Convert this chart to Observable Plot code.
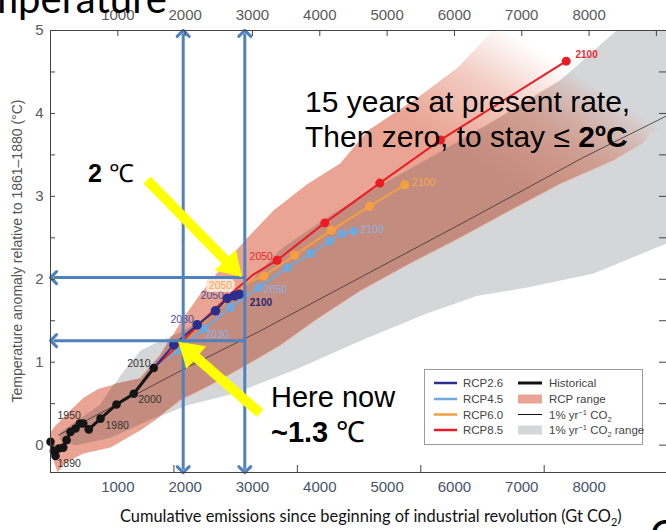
<!DOCTYPE html>
<html>
<head>
<meta charset="utf-8">
<script src="https://cdn.jsdelivr.net/npm/d3@7"></script>
<script src="https://cdn.jsdelivr.net/npm/@observablehq/plot@0.6"></script>
<style>
  html, body { margin: 0; padding: 0; background: white; }
  #wrap { position: relative; width: 666px; height: 530px; overflow: hidden; }
  #overlay { position: absolute; left: 0; top: 0; pointer-events: none; }
</style>
</head>
<body>
<div id="wrap"></div>
<script>
// ---------- data (x: cumulative emissions GtCO2, y: temperature anomaly °C) ----------
const historical = [
  {v: 0, T: 0.04}, {v: 49, T: -0.07}, {v: 74, T: -0.13}, {v: 123, T: -0.04}, {v: 189, T: -0.03},
  {v: 238, T: 0.06}, {v: 297, T: 0.16}, {v: 371, T: 0.20}, {v: 435, T: 0.26}, {v: 486, T: 0.26},
  {v: 569, T: 0.19}, {v: 743, T: 0.32}, {v: 980, T: 0.49}, {v: 1237, T: 0.62}, {v: 1534, T: 0.93}
];
const rcp26 = [
  {v: 1534, T: 0.93}, {v: 1831, T: 1.21}, {v: 2179, T: 1.45}, {v: 2451, T: 1.62},
  {v: 2625, T: 1.77}, {v: 2733, T: 1.80}, {v: 2807, T: 1.82}
];
const rcp45 = [
  {v: 1534, T: 0.93}, {v: 1882, T: 1.14}, {v: 2277, T: 1.40}, {v: 2674, T: 1.66}, {v: 3094, T: 1.90},
  {v: 3516, T: 2.14}, {v: 3862, T: 2.31}, {v: 4149, T: 2.46}, {v: 4333, T: 2.55}, {v: 4505, T: 2.58}
];
const rcp60 = [
  {v: 1534, T: 0.93}, {v: 1860, T: 1.17}, {v: 2250, T: 1.47}, {v: 2620, T: 1.74}, {v: 2950, T: 1.97},
  {v: 3168, T: 2.04}, {v: 3624, T: 2.29}, {v: 4170, T: 2.59}, {v: 4738, T: 2.88}, {v: 5263, T: 3.14}
];
const rcp60Dots = [3168, 3624, 4170, 4738, 5263];
const rcp85 = [
  {v: 1534, T: 0.93}, {v: 1880, T: 1.19}, {v: 2300, T: 1.53}, {v: 2700, T: 1.84}, {v: 3000, T: 2.05},
  {v: 3367, T: 2.23}, {v: 4074, T: 2.68}, {v: 4891, T: 3.16}, {v: 5793, T: 3.68}, {v: 7660, T: 4.63}
];
const rcp85Dots = [3367, 4074, 4891, 5793, 7660];
const onePct = [
  {v: 119, T: 0.12}, {v: 2035, T: 0.94}, {v: 3075, T: 1.36}, {v: 4204, T: 1.85},
  {v: 6194, T: 2.71}, {v: 7917, T: 3.47}, {v: 9150, T: 3.97}
];
// RCP range polygon (upper edge left→right, then lower edge right→left)
const rcpRange = [
  {v: 0, T: 0.15}, {v: 45, T: 0.21}, {v: 297, T: 0.42}, {v: 490, T: 0.57}, {v: 713, T: 0.68},
  {v: 995, T: 0.74}, {v: 1337, T: 0.80}, {v: 1634, T: 1.08}, {v: 1931, T: 1.48}, {v: 2228, T: 1.83},
  {v: 2629, T: 2.23}, {v: 2926, T: 2.50}, {v: 3312, T: 2.83}, {v: 3817, T: 3.15}, {v: 4307, T: 3.40},
  {v: 4709, T: 3.79}, {v: 5451, T: 4.19}, {v: 6046, T: 4.55}, {v: 6432, T: 4.88}, {v: 6759, T: 5.17},
  {v: 7724, T: 5.36}, {v: 9507, T: 4.40}, {v: 9358, T: 3.85}, {v: 8912, T: 3.76}, {v: 8808, T: 3.64},
  {v: 8363, T: 3.43}, {v: 7576, T: 3.15}, {v: 6833, T: 2.83}, {v: 6090, T: 2.50}, {v: 5347, T: 2.19},
  {v: 4605, T: 1.86}, {v: 3966, T: 1.52}, {v: 3416, T: 1.20}, {v: 2822, T: 0.92}, {v: 2332, T: 0.70},
  {v: 1931, T: 0.54}, {v: 1589, T: 0.32}, {v: 1337, T: 0.18}, {v: 891, T: -0.03}, {v: 490, T: -0.10},
  {v: 223, T: -0.21}, {v: 104, T: -0.33}, {v: 0, T: -0.07}
];
// 1% yr-1 CO2 range polygon
const pctRange = [
  {v: 149, T: 0.15}, {v: 743, T: 0.48}, {v: 1040, T: 0.84}, {v: 1337, T: 1.14}, {v: 1634, T: 1.26},
  {v: 1931, T: 1.35}, {v: 2377, T: 1.56}, {v: 2822, T: 1.83}, {v: 3416, T: 2.35}, {v: 4115, T: 2.74},
  {v: 4605, T: 2.99}, {v: 5838, T: 3.55}, {v: 6684, T: 3.95}, {v: 7576, T: 4.40}, {v: 8407, T: 5.00},
  {v: 8764, T: 5.24}, {v: 9655, T: 5.24}, {v: 9655, T: 2.53}, {v: 9150, T: 2.43}, {v: 8066, T: 2.07},
  {v: 7085, T: 1.90}, {v: 6343, T: 1.80}, {v: 5600, T: 1.59}, {v: 4605, T: 1.26}, {v: 3669, T: 0.92},
  {v: 2718, T: 0.62}, {v: 2035, T: 0.48}, {v: 1485, T: 0.30}, {v: 891, T: 0.08}, {v: 371, T: -0.01},
  {v: 149, T: 0.06}
];
// gradient fade of the RCP range (start full, end transparent)
const rcpFade = {from: {v: 5496, T: 3.83}, to: {v: 6536, T: 5.14}};

const histYearLabels = [
  {text: "1890", v: 104, T: -0.22}, {text: "1950", v: 104, T: 0.35}, {text: "1980", v: 817, T: 0.24},
  {text: "2000", v: 1303, T: 0.55}, {text: "2010", v: 1139, T: 0.98}
];
const rcpYearLabels = [
  {text: "2030", v: 1956, T: 1.51, color: "#4a4a9c"},
  {text: "2050", v: 2402, T: 1.80, color: "#4a4a9c"},
  {text: "2030", v: 2476, T: 1.33, color: "#8db3e2"},
  {text: "2050", v: 3342, T: 1.88, color: "#8db3e2"},
  {text: "2100", v: 4779, T: 2.60, color: "#8db3e2"},
  {text: "2100", v: 5541, T: 3.17, color: "#f7a84e"},
  {text: "2050", v: 3130, T: 2.27, color: "#e8262c"}
];
const orangeBoxLabel = [{text: "2050", v: 2525, T: 1.92}];
const boldYearLabels = [
  {text: "2100", v: 2960, T: 1.72, color: "#26286e"},
  {text: "2100", v: 7798, T: 4.71, color: "#ee2b31"}
];

// slide annotations
const blueVertical = [1971, 2886];
const blueHorizontal = [2.02, 1.26];
const yellowArrows = [
  {x1: 1441, y1: 3.19, x2: 2852, y2: 2.02},
  {x1: 3119, y1: 0.38, x2: 1906, y2: 1.24}
];

// ticks
const xTickLabels = [1000, 2000, 3000, 4000, 5000, 6000, 7000, 8000];
const xTopTicks = [1000, 2000, 3000, 4000, 5000, 6000, 7000, 8000, 9000];
const xBottomTicksGtC = [500, 1000, 1500, 2000]; // original GtC ticks
const gtcToGtco2 = 44 / 12;
const yTickLabels = [0, 1, 2, 3, 4, 5];
const yTicks = [0, 0.5, 1, 1.5, 2, 2.5, 3, 3.5, 4, 4.5, 5];
const xDomain = [0, 9150];
const yDomain = [-0.33, 5];

// ---------- colors ----------
const C = {
  navy: "#2b2e8c", light: "#6fa8dc", orange: "#f5a03e", red: "#ec1c24",
  salmon: "#e9a493", brown: "#c38c7e", gray: "#d5d6d8", blue: "#4f81bd", yellow: "#ffff00", hist: "#151515"
};

const W = 666, H = 530, mT = 30, mB = 58, mL = 50, mR = 0;
const innerW = W - mL - mR, innerH = H - mT - mB;

function addFade(defs, id, color, x, y) {
  const g = defs.append("linearGradient")
    .attr("id", id).attr("gradientUnits", "userSpaceOnUse")
    .attr("x1", x(rcpFade.from.v)).attr("y1", y(rcpFade.from.T))
    .attr("x2", x(rcpFade.to.v)).attr("y2", y(rcpFade.to.T));
  g.append("stop").attr("offset", 0).attr("stop-color", color).attr("stop-opacity", 1);
  g.append("stop").attr("offset", 0.55).attr("stop-color", color).attr("stop-opacity", 0.55);
  g.append("stop").attr("offset", 1).attr("stop-color", color).attr("stop-opacity", 0);
}

function gradientDefs(index, scales) {
  const {x, y} = scales;
  const svg = d3.create("svg:g");
  const defs = svg.append("defs");
  addFade(defs, "rcpFadeGrad", C.salmon, x, y);
  return svg.node();
}

// the part of the 1% range that lies under the RCP range (drawn darker)
function overlapMark(index, scales) {
  const {x, y} = scales;
  const line = d3.line().x(d => x(d.v)).y(d => y(d.T));
  const g = d3.create("svg:g");
  const defs = g.append("defs");
  addFade(defs, "overlapGrad", C.brown, x, y);
  defs.append("clipPath").attr("id", "rcpClip").append("path").attr("d", line(rcpRange) + "Z");
  defs.append("clipPath").attr("id", "frameClip").append("rect")
    .attr("x", mL).attr("y", mT).attr("width", innerW).attr("height", innerH);
  g.append("g").attr("clip-path", "url(#frameClip)")
    .append("path").attr("d", line(pctRange) + "Z")
    .attr("fill", "url(#overlapGrad)").attr("clip-path", "url(#rcpClip)");
  return g.node();
}

function fatArrows(index, scales) {
  const {x, y} = scales;
  const g = d3.create("svg:g");
  const w = 10, hl = 24, hw = 15;
  for (const a of yellowArrows) {
    const tx = x(a.x1), ty = y(a.y1), px = x(a.x2), py = y(a.y2);
    const len = Math.hypot(px - tx, py - ty);
    const dx = (px - tx) / len, dy = (py - ty) / len;
    const nx = -dy, ny = dx;
    const bx = px - dx * hl, by = py - dy * hl;
    const pts = [
      [tx + nx * w / 2, ty + ny * w / 2], [bx + nx * w / 2, by + ny * w / 2], [bx + nx * hw, by + ny * hw],
      [px, py], [bx - nx * hw, by - ny * hw], [bx - nx * w / 2, by - ny * w / 2], [tx - nx * w / 2, ty - ny * w / 2]
    ];
    g.append("polygon").attr("points", pts.map(p => p.join(",")).join(" ")).attr("fill", C.yellow);
  }
  return g.node();
}

const midT = 2.4;
const vertLinks = blueVertical.flatMap(v => [
  {x1: v, y1: midT, x2: v, y2: 4.965}, {x1: v, y1: midT, x2: v, y2: -0.295}
]);
const horizLinks = blueHorizontal.map(T => ({x1: 2886, y1: T, x2: 45, y2: T}));

const plot = Plot.plot({
  width: W, height: H,
  marginTop: mT, marginBottom: mB, marginLeft: mL, marginRight: mR,
  x: {domain: xDomain, axis: null},
  y: {domain: yDomain, axis: null},
  style: {fontFamily: "'Liberation Sans', Arial, sans-serif", background: "white", overflow: "hidden"},
  marks: [
    gradientDefs,
    Plot.line(pctRange, {x: "v", y: "T", fill: C.gray, stroke: "none", clip: true}),
    Plot.line(rcpRange, {x: "v", y: "T", fill: "url(#rcpFadeGrad)", stroke: "none", clip: true}),
    overlapMark,
    Plot.line(onePct, {x: "v", y: "T", stroke: "#333", strokeWidth: 0.8, clip: true}),
    // RCP scenarios
    Plot.line(rcp45, {x: "v", y: "T", stroke: C.light, strokeWidth: 2}),
    Plot.dot(rcp45.slice(1), {x: "v", y: "T", r: 4.5, fill: C.light}),
    Plot.line(rcp60, {x: "v", y: "T", stroke: C.orange, strokeWidth: 2}),
    Plot.dot(rcp60.filter(d => rcp60Dots.includes(d.v)), {x: "v", y: "T", r: 4.5, fill: C.orange}),
    Plot.line(rcp85, {x: "v", y: "T", stroke: C.red, strokeWidth: 2}),
    Plot.dot(rcp85.filter(d => rcp85Dots.includes(d.v)), {x: "v", y: "T", r: 4.5, fill: C.red}),
    Plot.line(rcp26, {x: "v", y: "T", stroke: C.navy, strokeWidth: 2}),
    Plot.dot(rcp26.slice(1), {x: "v", y: "T", r: 4.8, fill: C.navy}),
    // historical
    Plot.line(historical, {x: "v", y: "T", stroke: C.hist, strokeWidth: 3}),
    Plot.dot(historical, {x: "v", y: "T", r: 4.3, fill: C.hist}),
    // year labels
    Plot.text(histYearLabels, {x: "v", y: "T", text: "text", textAnchor: "start", fill: "#333", fontSize: 10.5}),
    Plot.text(rcpYearLabels, {x: "v", y: "T", text: "text", fill: "color", fontSize: 10.5}),
    Plot.text(orangeBoxLabel, {x: "v", y: "T", text: "text", fill: "#f7a84e", stroke: "#fbe4d8", strokeWidth: 6, fontSize: 10.5}),
    Plot.text(boldYearLabels, {x: "v", y: "T", text: "text", fill: "color", textAnchor: "start", fontWeight: "bold", fontSize: 10}),
    // blue annotation arrows
    Plot.link(vertLinks, {x1: "x1", y1: "y1", x2: "x2", y2: "y2", stroke: C.blue, strokeWidth: 3, markerEnd: "arrow"}),
    Plot.link(horizLinks, {x1: "x1", y1: "y1", x2: "x2", y2: "y2", stroke: C.blue, strokeWidth: 3, markerEnd: "arrow"}),
    // yellow arrows
    fatArrows,
    // frame lines
    Plot.ruleY([yDomain[1]], {stroke: "#444", strokeWidth: 1}),
    Plot.ruleY([yDomain[0]], {stroke: "#444", strokeWidth: 1}),
    Plot.ruleX([xDomain[0]], {stroke: "#444", strokeWidth: 1}),
    // inward ticks
    Plot.tickX(xTopTicks, {x: d => d, insetBottom: innerH - 6, stroke: "#444"}),
    Plot.tickX(xBottomTicksGtC, {x: d => d * gtcToGtco2, insetTop: innerH - 7, stroke: "#444"}),
    Plot.tickY(yTicks, {y: d => d, insetRight: innerW - 5, stroke: "#444"}),
    Plot.tickY(yTicks, {y: d => d, insetLeft: innerW - 7, stroke: "#444"}),
    // axis labels
    Plot.axisX(xTickLabels, {anchor: "top", tickSize: 0, tickPadding: 11, fontSize: 15, color: "#5a5a5a", label: null, tickFormat: "d"}),
    Plot.axisX(xTickLabels, {anchor: "bottom", tickSize: 0, tickPadding: 9, fontSize: 15, color: "#46536a", label: null, tickFormat: "d"}),
    Plot.axisY(yTickLabels, {anchor: "left", tickSize: 0, tickPadding: 7, fontSize: 15, color: "#5a5a5a", label: null, tickFormat: "d"})
  ]
});

const wrap = document.getElementById("wrap");
wrap.appendChild(plot);

// ---------- overlay text (slide annotations, titles, legend) ----------
const ov = d3.select(wrap).append("svg").attr("id", "overlay").attr("width", W).attr("height", H);
const arial = "'Liberation Sans', Arial, sans-serif";
const lato = "Lato, 'Open Sans', sans-serif";

ov.append("text").attr("x", 167).attr("y", 13).attr("text-anchor", "end")
  .attr("font-family", lato).attr("font-size", 40).attr("fill", "#000").text("Temperature");
ov.append("text").attr("x", 650).attr("y", 549)
  .attr("font-family", lato).attr("font-size", 40).attr("fill", "#000").text("C");

// y axis title
ov.append("text").attr("transform", "translate(22,251) rotate(-90)").attr("text-anchor", "middle")
  .attr("font-family", arial).attr("font-size", 14).attr("fill", "#555")
  .text("Temperature anomaly relative to 1861–1880 (°C)");

// x axis caption
const cap = ov.append("text").attr("x", 120).attr("y", 522)
  .attr("font-family", lato).attr("font-size", 16.4).attr("fill", "#111");
cap.append("tspan").text("Cumulative emissions since beginning of industrial revolution (Gt CO");
cap.append("tspan").attr("font-size", 11).attr("dy", 4).text("2");
cap.append("tspan").attr("dy", -4).text(")");

// big annotations
const big = (x, y, size) => ov.append("text").attr("x", x).attr("y", y)
  .attr("font-family", arial).attr("font-size", size).attr("fill", "#000");
big(305, 112, 30).text("15 years at present rate,");
const l2 = big(305, 147, 30);
l2.append("tspan").text("Then zero, to stay ≤ ");
l2.append("tspan").attr("font-weight", "bold").text("2ºC");
const t2 = big(88, 182, 25);
t2.append("tspan").attr("font-weight", "bold").text("2");
t2.append("tspan").text(" ℃");
big(271, 407, 29).text("Here now");
const t13 = big(271, 442, 29);
t13.append("tspan").attr("font-weight", "bold").text("~1.3");
t13.append("tspan").text(" ℃");

// legend
const lg = ov.append("g").attr("font-family", arial).attr("font-size", 11.5).attr("fill", "#444");
lg.append("rect").attr("x", 424.5).attr("y", 369.5).attr("width", 218).attr("height", 75)
  .attr("fill", "white").attr("stroke", "#9a9a9a");
const rows = [383, 399, 414.5, 430];
const col1 = [["RCP2.6", C.navy], ["RCP4.5", C.light], ["RCP6.0", C.orange], ["RCP8.5", C.red]];
col1.forEach(([name, col], i) => {
  lg.append("line").attr("x1", 434).attr("x2", 457).attr("y1", rows[i]).attr("y2", rows[i])
    .attr("stroke", col).attr("stroke-width", 2.5);
  lg.append("text").attr("x", 463).attr("y", rows[i] + 4).text(name);
});
lg.append("line").attr("x1", 518).attr("x2", 542).attr("y1", rows[0]).attr("y2", rows[0])
  .attr("stroke", "#111").attr("stroke-width", 3);
lg.append("text").attr("x", 549).attr("y", rows[0] + 4).text("Historical");
lg.append("rect").attr("x", 518).attr("y", rows[1] - 4.5).attr("width", 24).attr("height", 9).attr("fill", C.salmon);
lg.append("text").attr("x", 549).attr("y", rows[1] + 4).text("RCP range");
lg.append("line").attr("x1", 518).attr("x2", 542).attr("y1", rows[2]).attr("y2", rows[2])
  .attr("stroke", "#111").attr("stroke-width", 1);
lg.append("rect").attr("x", 518).attr("y", rows[3] - 4.5).attr("width", 24).attr("height", 9).attr("fill", C.gray);
function pctLabel(y, suffix) {
  const t = lg.append("text").attr("x", 549).attr("y", y + 4);
  t.append("tspan").text("1% yr");
  t.append("tspan").attr("font-size", 7.5).attr("dy", -4).text("−1");
  t.append("tspan").attr("dy", 4).text(" CO");
  t.append("tspan").attr("font-size", 7.5).attr("dy", 3).text("2");
  t.append("tspan").attr("dy", -3).text(suffix);
}
pctLabel(rows[2], "");
pctLabel(rows[3], " range");
</script>
</body>
</html>
